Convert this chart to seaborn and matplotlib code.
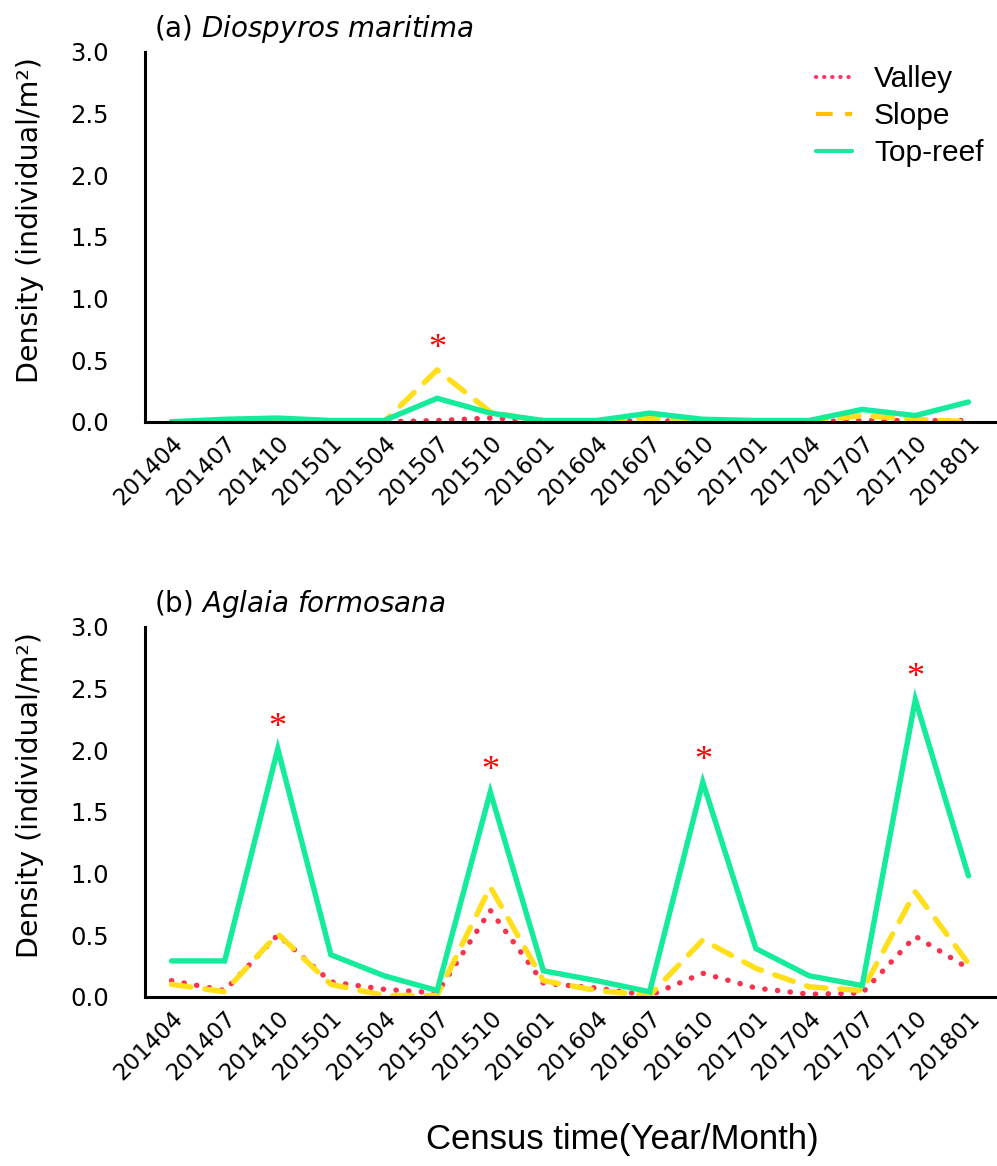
import numpy as np
import pandas as pd
import matplotlib
matplotlib.use("Agg")
import matplotlib.pyplot as plt
import matplotlib.transforms as mtransforms
from matplotlib.lines import Line2D
import seaborn as sns

# Census months
census = ["201404", "201407", "201410", "201501", "201504", "201507", "201510", "201601",
          "201604", "201607", "201610", "201701", "201704", "201707", "201710", "201801"]

# (a) Diospyros maritima densities (individual/m2)
valley_a = [0.00, 0.00, 0.01, 0.00, 0.00, 0.01, 0.03, 0.01, 0.00, 0.01, 0.00, 0.00, 0.00, 0.01, 0.01, 0.01]
slope_a = [0.00, 0.00, 0.01, 0.00, 0.00, 0.42, 0.08, 0.00, 0.00, 0.03, 0.00, 0.00, 0.00, 0.05, 0.02, 0.00]
top_a = [0.00, 0.02, 0.03, 0.01, 0.01, 0.19, 0.07, 0.01, 0.01, 0.07, 0.02, 0.01, 0.01, 0.10, 0.05, 0.16]

# (b) Aglaia formosana densities (individual/m2)
valley_b = [0.13, 0.05, 0.50, 0.12, 0.06, 0.03, 0.70, 0.11, 0.07, 0.01, 0.19, 0.07, 0.02, 0.03, 0.49, 0.23]
slope_b = [0.10, 0.04, 0.51, 0.10, 0.01, 0.01, 0.89, 0.13, 0.05, 0.01, 0.46, 0.23, 0.08, 0.05, 0.85, 0.27]
top_b = [0.29, 0.29, 2.01, 0.34, 0.17, 0.05, 1.66, 0.21, 0.13, 0.04, 1.74, 0.39, 0.17, 0.09, 2.41, 0.98]

# Census months marked as significant
sig_a = ["201507"]
sig_b = ["201410", "201510", "201610", "201710"]

sites = ["Valley", "Slope", "Top-reef"]
colors = {"Valley": "#f7334f", "Slope": "#ffdf1a", "Top-reef": "#14eb9b"}
styles = {"Valley": (0, (0.05, 2.3)), "Slope": (0, (3.6, 2.6)), "Top-reef": "-"}

sns.set_theme(style="white")
plt.rcParams["font.family"] = ["DejaVu Sans"]
plt.rcParams["text.color"] = "black"
plt.rcParams["axes.labelcolor"] = "black"
plt.rcParams["xtick.color"] = "black"
plt.rcParams["ytick.color"] = "black"

fig = plt.figure(figsize=(9.97, 11.66), dpi=100)
ax_a = fig.add_axes([0.1454, 0.6383, 0.8526, 0.3174])
ax_b = fig.add_axes([0.1454, 0.1452, 0.8526, 0.3173])


def build_frame(valley, slope, top):
    rows = []
    for site, vals in zip(sites, [valley, slope, top]):
        for i, (c, v) in enumerate(zip(census, vals)):
            rows.append({"pos": i, "census": c, "site": site, "density": v})
    return pd.DataFrame(rows)


def draw_panel(ax, df, title_tag, species, sig):
    for site in sites:
        sub = df[df["site"] == site]
        sns.lineplot(data=sub, x="pos", y="density", ax=ax, color=colors[site],
                     linewidth=3.9, sort=False, errorbar=None, legend=False)
        ln = ax.lines[-1]
        ln.set_linestyle(styles[site])
        ln.set_dash_capstyle("round")
        ln.set_solid_capstyle("round")
        ln.set_solid_joinstyle("miter")
    n = len(census)
    ax.set_xlim(-0.5, n - 0.5)
    ax.set_ylim(0, 3.0)
    yt = np.arange(0, 3.01, 0.5)
    ax.set_yticks(yt)
    ax.set_yticklabels([f"{v:.1f}" for v in yt], fontsize=17.5)
    ax.set_xticks(range(n))
    ax.set_xticklabels(census, rotation=45, ha="right", rotation_mode="anchor", fontsize=16.5)
    shift = mtransforms.ScaledTranslation(3 / 100, 0, fig.dpi_scale_trans)
    for lab in ax.get_xticklabels():
        lab.set_transform(lab.get_transform() + shift)
    ax.set_xticks(np.arange(-0.5, n, 1.0), minor=True)
    ax.tick_params(axis="x", which="major", length=0, pad=7)
    ax.tick_params(axis="x", which="minor", length=8, width=2.2, direction="out")
    ax.tick_params(axis="y", which="major", length=8, width=2.2, direction="out", pad=18)
    for side in ["top", "right"]:
        ax.spines[side].set_visible(False)
    for side in ["left", "bottom"]:
        ax.spines[side].set_linewidth(2.2)
        ax.spines[side].set_color("black")
    ax.set_xlabel("")
    ax.set_ylabel("Density (individual/m²)", fontsize=20.5)
    ax.yaxis.set_label_coords(-0.119, 0.545)
    ax.text(0.011, 1.062, f"({title_tag}) $\\it{{{species.replace(' ', '\\ ')}}}$",
            transform=ax.transAxes, fontsize=20, ha="left", va="center")
    for c in sig:
        i = census.index(c)
        peak = df[df["pos"] == i]["density"].max()
        ax.annotate("*", xy=(i, peak), xytext=(0, 3), textcoords="offset points",
                    ha="center", va="bottom", color="red", fontsize=26,
                    family="Liberation Serif")
    ax.set_facecolor("white")


df_a = build_frame(valley_a, slope_a, top_a)
df_b = build_frame(valley_b, slope_b, top_b)
draw_panel(ax_a, df_a, "a", "Diospyros maritima", sig_a)
draw_panel(ax_b, df_b, "b", "Aglaia formosana", sig_b)

handles = [
    Line2D([], [], color="#ff3366", linewidth=3.0, linestyle=(0, (0.05, 1.9)),
           dash_capstyle="round"),
    Line2D([], [], color="#ffc000", linewidth=3.0, linestyle=(0, (4, 3))),
    Line2D([], [], color="#14eb9b", linewidth=3.0),
]
ax_a.legend(handles, sites, loc="upper left", bbox_to_anchor=(0.775, 0.995), frameon=False,
            prop={"family": "Liberation Sans", "size": 21.5}, handlelength=1.2,
            handletextpad=0.75, labelspacing=0.3, borderaxespad=0)

fig.text(622 / 997, 1 - 1140 / 1166, "Census time(Year/Month)", ha="center", va="center",
         fontsize=25, family="Liberation Sans")

fig.savefig("out.png", dpi=100, facecolor="white")
